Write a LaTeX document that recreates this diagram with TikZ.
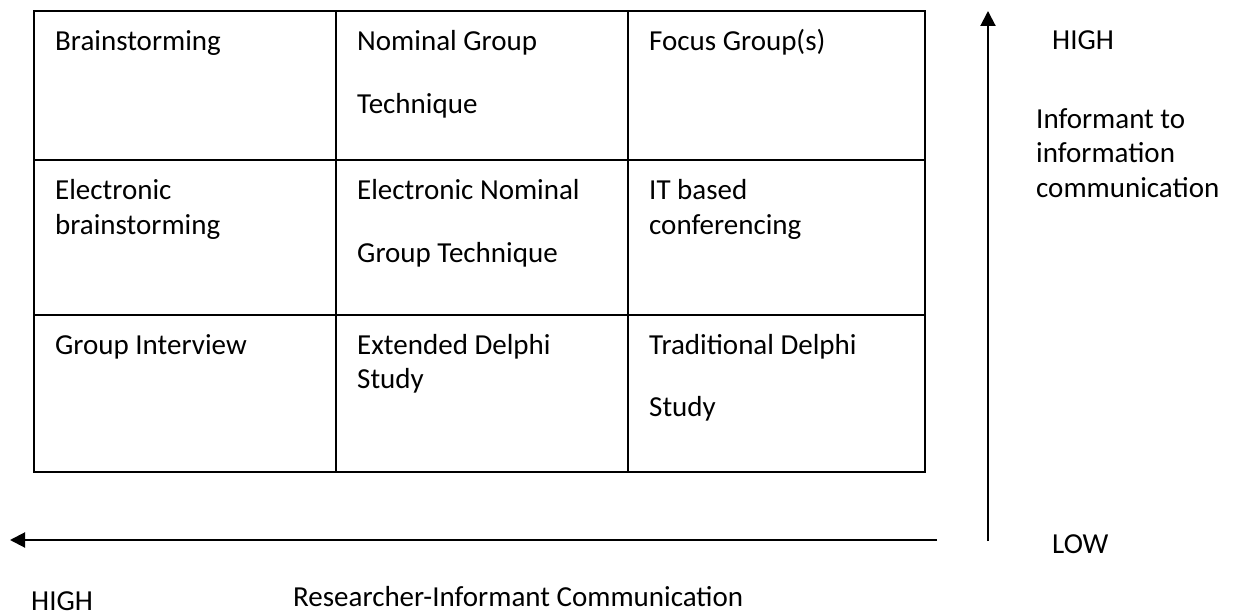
\documentclass[tikz,border=0pt]{standalone}
\usepackage{fontspec}
\setmainfont{Carlito}
\usetikzlibrary{arrows.meta}

\begin{document}
\begin{tikzpicture}[x=1pt,y=-1pt,
  cell/.style={anchor=base west,inner sep=0pt,font=\fontsize{29}{34}\selectfont},
  axis/.style={line width=2pt,-{Triangle[length=15pt,width=15pt]}}]
\useasboundingbox (0,0) rectangle (1240,615);
% grid of techniques
\draw[line width=1.6pt] (34,11) rectangle (925,472);
\draw[line width=1.6pt] (336,11) -- (336,472) (628,11) -- (628,472)
  (34,160) -- (925,160) (34,315) -- (925,315);
% row 1
\node[cell] (bs) at (55,51) {Brainstorming};
\node[cell] (ng1) at (357,51) {Nominal Group};
\node[cell] (ng2) at (357,114) {Technique};
\node[cell] (fg) at (649,51) {Focus Group(s)};
% row 2
\node[cell] (eb1) at (55,200) {Electronic};
\node[cell] (eb2) at (55,234) {brainstorming};
\node[cell] (en1) at (357,200) {Electronic Nominal};
\node[cell] (en2) at (357,262) {Group Technique};
\node[cell] (it1) at (649,200) {IT based};
\node[cell] (it2) at (649,234) {conferencing};
% row 3
\node[cell] (gi) at (55,354) {Group Interview};
\node[cell] (ed1) at (357,354) {Extended Delphi};
\node[cell] (ed2) at (357,388) {Study};
\node[cell] (td1) at (649,354) {Traditional Delphi};
\node[cell] (td2) at (649,416) {Study};
% axes
\coordinate (vlow) at (988,541);
\coordinate (vhigh) at (988,11);
\coordinate (hlow) at (937,540);
\coordinate (hhigh) at (10,540);
\draw[axis] (vlow) -- (vhigh);
\draw[axis] (hlow) -- (hhigh);
% axis labels
\node[cell] (vh) at (1052,50) {HIGH};
\node[cell] (vl1) at (1036,129) {Informant to};
\node[cell] (vl2) at (1036,163) {information};
\node[cell] (vl3) at (1036,197) {communication};
\node[cell] (vlw) at (1052,553) {LOW};
\node[cell] (hh) at (31,610) {HIGH};
\node[cell] (hl) at (293,606) {Researcher-Informant Communication};
\end{tikzpicture}
\end{document}
